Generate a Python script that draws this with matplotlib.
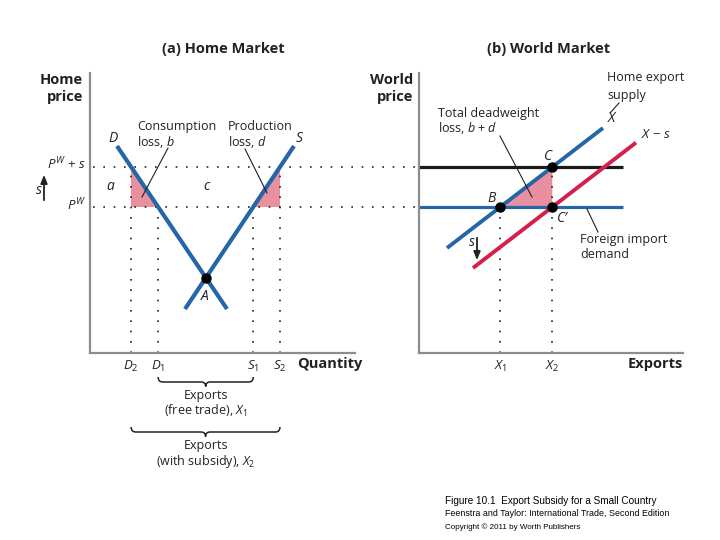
import numpy as np
import matplotlib
matplotlib.use("Agg")
import matplotlib.pyplot as plt
from matplotlib.path import Path
from matplotlib.patches import PathPatch, Polygon
from matplotlib.lines import Line2D

plt.rcParams['font.family'] = ['Open Sans', 'DejaVu Sans']
plt.rcParams['mathtext.fontset'] = 'custom'
plt.rcParams['mathtext.rm'] = 'Open Sans'
plt.rcParams['mathtext.it'] = 'Open Sans:italic'
plt.rcParams['mathtext.bf'] = 'Open Sans:bold'

# ---------------- data (conceptual units) ----------------
world_price = 14.6          # P^W
subsidy = 4.0               # s
demand_q = [2.7, 13.7]
demand_p = [20.7, 4.4]
supply_q = [9.5, 20.4]
supply_p = [4.4, 20.7]
export_supply_q = [2.8, 18.4]
export_supply_p = [10.5, 22.5]
shifted_supply_q = [5.4, 21.7]
world_line_q = [0.0, 20.4]

# derived
pw, pws = world_price, world_price + subsidy
D1 = np.interp(pw, demand_p[::-1], demand_q[::-1])
D2 = np.interp(pws, demand_p[::-1], demand_q[::-1])
S1 = np.interp(pw, supply_p, supply_q)
S2 = np.interp(pws, supply_p, supply_q)
md = (demand_p[1] - demand_p[0]) / (demand_q[1] - demand_q[0])
ms = (supply_p[1] - supply_p[0]) / (supply_q[1] - supply_q[0])
qa = (supply_p[0] - ms * supply_q[0] - demand_p[0] + md * demand_q[0]) / (md - ms)
pa = demand_p[0] + md * (qa - demand_q[0])
mx = (export_supply_p[1] - export_supply_p[0]) / (export_supply_q[1] - export_supply_q[0])
X1 = export_supply_q[0] + (pw - export_supply_p[0]) / mx
X2 = export_supply_q[0] + (pws - export_supply_p[0]) / mx
shifted_supply_p = [export_supply_p[0] + mx * (q - export_supply_q[0]) - subsidy for q in shifted_supply_q]

BLUE = '#2566a8'
RED = '#d4204c'
PINK = '#e8909f'
GRAY = '#8c8c8c'
DOT = dict(color='#222222', lw=1.2, ls=(0, (1, 5.2)))

W, H = 720, 540
fig = plt.figure(figsize=(7.2, 5.4), dpi=100)

def axes_px(left, right, top, bottom):
    return fig.add_axes([left / W, 1 - bottom / H, (right - left) / W, (bottom - top) / H])

ax1 = axes_px(90, 355, 73, 353)
ax2 = axes_px(419, 683, 73, 353)
for ax, xm in ((ax1, 26.5), (ax2, 26.4)):
    ax.set_xlim(0, xm)
    ax.set_ylim(0, 28)
    ax.set_xticks([]); ax.set_yticks([])
    for sp in ('top', 'right'):
        ax.spines[sp].set_visible(False)
    for sp in ('left', 'bottom'):
        ax.spines[sp].set_color(GRAY)
        ax.spines[sp].set_linewidth(1.6)
    ax.patch.set_alpha(0)

def T(px, py, s, **kw):
    kw.setdefault('fontsize', 9)
    kw.setdefault('color', '#222222')
    fig.text(px / W, 1 - py / H, s, **kw)

def I(px, py, s, **kw):
    kw.setdefault('fontsize', 10)
    kw.setdefault('ha', 'center')
    kw.setdefault('va', 'center')
    T(px, py, s, style='italic', **kw)

def L(p0, p1, lw=0.8):
    fig.add_artist(Line2D([p0[0] / W, p1[0] / W], [1 - p0[1] / H, 1 - p1[1] / H],
                          transform=fig.transFigure, color='#222222', lw=lw))

def arrow(px, y0, y1):
    ax1.annotate('', xy=(px / W, 1 - y1 / H), xytext=(px / W, 1 - y0 / H),
                 xycoords='figure fraction', textcoords='figure fraction',
                 arrowprops=dict(arrowstyle='-|>,head_length=0.5,head_width=0.2',
                                 color='#222222', lw=1.3))

def brace(ax, x0, x1, y, h=0.5, r=0.45, tip=0.45):
    xm = (x0 + x1) / 2
    verts = [(x0, y + h), (x0, y), (x0 + r, y), (xm - r, y), (xm, y), (xm, y - tip),
             (xm, y), (xm + r, y), (x1 - r, y), (x1, y), (x1, y + h)]
    codes = [Path.MOVETO, Path.CURVE3, Path.CURVE3, Path.LINETO, Path.CURVE3, Path.CURVE3,
             Path.CURVE3, Path.CURVE3, Path.LINETO, Path.CURVE3, Path.CURVE3]
    ax.add_patch(PathPatch(Path(verts, codes), fill=False, lw=1.1, color='#222222', clip_on=False))

# ---------------- left panel ----------------
x_end = (419 - 90) / 10.0
for p in (pws, pw):
    ax1.plot([0.3, x_end], [p, p], clip_on=False, **DOT)
for q, p in ((D2, pws), (D1, pw), (S1, pw), (S2, pws)):
    ax1.plot([q, q], [0, p], **DOT)
ax1.add_patch(Polygon([(D2, pws), (D2, pw), (D1, pw)], closed=True, color=PINK, lw=0, zorder=1))
ax1.add_patch(Polygon([(S1, pw), (S2, pw), (S2, pws)], closed=True, color=PINK, lw=0, zorder=1))
ax1.plot(demand_q, demand_p, color=BLUE, lw=3, solid_capstyle='butt', zorder=3)
ax1.plot(supply_q, supply_p, color=BLUE, lw=3, solid_capstyle='butt', zorder=3)
ax1.plot([qa], [pa], 'o', color='black', ms=6.5, zorder=4)

brace(ax1, D1, S1, -2.9)
brace(ax1, D2, S2, -7.9)

T(223, 49, '(a) Home Market', fontsize=10.5, fontweight='bold', ha='center', va='center')
T(83, 80, 'Home', fontsize=10.5, fontweight='bold', ha='right', va='center')
T(83, 97, 'price', fontsize=10.5, fontweight='bold', ha='right', va='center')
I(113, 139, 'D')
I(299, 139, 'S')
T(137, 126, 'Consumption', va='center')
T(137, 142, 'loss, $b$', va='center')
T(228, 126, 'Production', va='center')
T(228, 142, 'loss, $d$', va='center')
L((168, 148), (142, 197))
L((245, 149), (267, 193))
I(110, 186, 'a')
I(206, 186, 'c')
I(205, 297, 'A')
T(86, 164, '$P^{W}$ + $s$', fontsize=9.5, ha='right', va='center')
T(86, 205, '$P^{W}$', fontsize=9.5, ha='right', va='center')
I(39, 191, 's')
arrow(44, 203, 172)
for q, lab in ((D2, '$D_2$'), (D1, '$D_1$'), (S1, '$S_1$'), (S2, '$S_2$')):
    T(90 + q * 10, 366, lab, fontsize=9.5, ha='center', va='center')
T(297, 364, 'Quantity', fontsize=10.5, fontweight='bold', ha='left', va='center')
T(206, 395, 'Exports', ha='center', va='center')
T(206, 411, '(free trade), $X_1$', ha='center', va='center')
T(206, 446, 'Exports', ha='center', va='center')
T(206, 462, '(with subsidy), $X_2$', ha='center', va='center')

# ---------------- right panel ----------------
ax2.plot([X1, X1], [0, pw], **DOT)
ax2.plot([X2, X2], [0, pws], **DOT)
ax2.add_patch(Polygon([(X1, pw), (X2, pws), (X2, pw)], closed=True, color=PINK, lw=0, zorder=1))
ax2.plot(world_line_q, [pws, pws], color='#1a1a1a', lw=2.3, solid_capstyle='butt', zorder=2)
ax2.plot(world_line_q, [pw, pw], color=BLUE, lw=2.3, solid_capstyle='butt', zorder=2)
ax2.plot(export_supply_q, export_supply_p, color=BLUE, lw=2.8, solid_capstyle='butt', zorder=3)
ax2.plot(shifted_supply_q, shifted_supply_p, color=RED, lw=2.8, solid_capstyle='butt', zorder=3)
ax2.plot([X1, X2, X2], [pw, pws, pw], 'o', color='black', ms=6.5, zorder=4)

T(549, 49, '(b) World Market', fontsize=10.5, fontweight='bold', ha='center', va='center')
T(413, 80, 'World', fontsize=10.5, fontweight='bold', ha='right', va='center')
T(413, 97, 'price', fontsize=10.5, fontweight='bold', ha='right', va='center')
T(607, 78, 'Home export', va='center')
T(607, 95, 'supply', va='center')
L((619, 103), (610, 113))
I(611, 119, 'X')
T(641, 134, '$X$ − $s$', fontsize=9.5, va='center')
T(438, 113, 'Total deadweight', va='center')
T(438, 128, 'loss, $b$ + $d$', va='center')
L((500, 136), (532, 197))
I(548, 156, 'C')
I(492, 198, 'B')
I(563, 219, 'C′')
T(580, 240, 'Foreign import', va='center')
T(580, 255, 'demand', va='center')
L((587, 209), (598, 232))
I(472, 243, 's')
arrow(477, 235, 263)
T(419 + X1 * 10, 366, '$X_1$', fontsize=9.5, ha='center', va='center')
T(419 + X2 * 10, 366, '$X_2$', fontsize=9.5, ha='center', va='center')
T(683, 364, 'Exports', fontsize=10.5, fontweight='bold', ha='right', va='center')

# ---------------- footer ----------------
T(445, 501, 'Figure 10.1  Export Subsidy for a Small Country', fontsize=7.2,
  family='Liberation Sans', color='black', va='center')
T(445, 514, 'Feenstra and Taylor: International Trade, Second Edition', fontsize=6.4,
  family='Liberation Sans', color='black', va='center')
T(445, 527, 'Copyright © 2011 by Worth Publishers', fontsize=5.8,
  family='Liberation Sans', color='black', va='center')

fig.savefig('out.png', dpi=100)
